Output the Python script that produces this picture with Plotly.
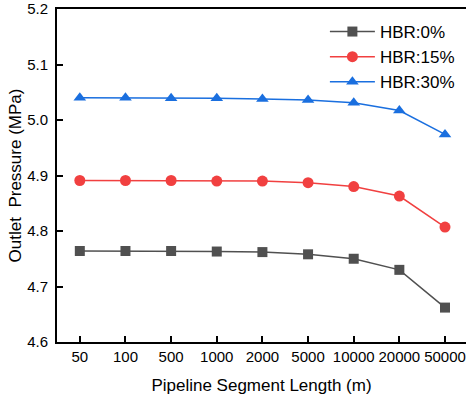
import plotly.graph_objects as go

categories = ["50", "100", "500", "1000", "2000", "5000", "10000", "20000", "50000"]
hbr0 = [4.764, 4.764, 4.764, 4.763, 4.762, 4.758, 4.750, 4.730, 4.662]
hbr15 = [4.891, 4.891, 4.891, 4.890, 4.890, 4.887, 4.880, 4.863, 4.807]
hbr30 = [5.040, 5.040, 5.039, 5.039, 5.038, 5.036, 5.031, 5.017, 4.974]
series_names = ["HBR:0%", "HBR:15%", "HBR:30%"]

FONT = "Liberation Sans, Arial, sans-serif"

fig = go.Figure()
styles = [
    ("#505050", "square", 10),
    ("#F14040", "circle", 11),
    ("#1A6FDF", "triangle-up", 11),
]
for name, vals, (col, sym, sz) in zip(series_names, [hbr0, hbr15, hbr30], styles):
    fig.add_trace(go.Scatter(
        x=categories, y=vals, name=name, mode="lines+markers",
        line=dict(color=col, width=1.5),
        marker=dict(symbol=sym, size=sz, color=col),
    ))

fig.update_layout(
    width=466, height=398,
    margin=dict(l=57, r=0, t=9, b=56),
    paper_bgcolor="white", plot_bgcolor="white",
    font=dict(family=FONT, color="black", size=15),
    showlegend=True,
    legend=dict(x=0.655, y=0.985, xanchor="left", yanchor="top",
                font=dict(size=17, family=FONT), bgcolor="rgba(0,0,0,0)",
                itemwidth=45, tracegroupgap=0),
    xaxis=dict(
        type="category", range=[-0.5, 8.46],
        showgrid=False, zeroline=False,
        showline=True, linecolor="black", linewidth=2, mirror=True,
        ticks="inside", ticklen=6, tickwidth=1.5, tickcolor="black",
        tickfont=dict(size=15),
        title=dict(text="Pipeline Segment Length (m)", font=dict(size=17), standoff=15),
    ),
    yaxis=dict(
        range=[4.6, 5.2], dtick=0.1, tick0=4.6, tickformat=".1f",
        showgrid=False, zeroline=False,
        showline=True, linecolor="black", linewidth=2,
        ticks="inside", ticklen=6, tickwidth=1.5, tickcolor="black",
        tickfont=dict(size=15), ticklabelstandoff=4,
        title=dict(text="Outlet\u00a0 Pressure (MPa)", font=dict(size=17), standoff=1),
    ),
)

fig.write_html("out.html")
